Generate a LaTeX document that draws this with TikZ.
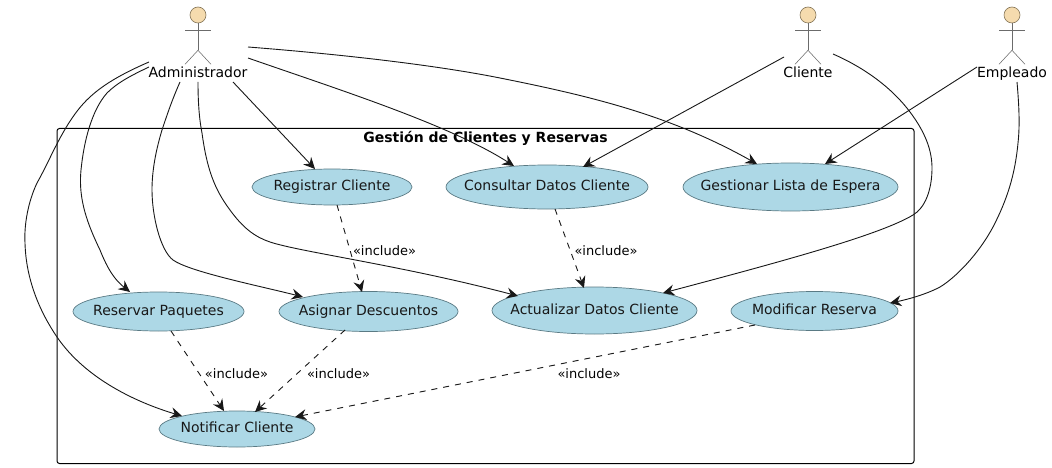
\documentclass[tikz,border=0pt]{standalone}
\usepackage{fontspec}
\setmainfont{DejaVu Sans}
\usetikzlibrary{arrows.meta,shapes.geometric}
\definecolor{ink}{HTML}{181818}
\definecolor{ucfill}{HTML}{ADD8E6}
\definecolor{ucline}{HTML}{5A7A84}
\definecolor{headfill}{HTML}{F5DBAE}
\definecolor{headline}{HTML}{857558}
\tikzset{
  x=1pt,y=-1pt,
  uc/.style={draw=ucline,fill=ucfill,ellipse,inner sep=0pt,line width=.7pt,text=ink,font=\fontsize{14}{16}\selectfont},
  actorname/.style={inner sep=0pt,anchor=base,text=black,font=\fontsize{14}{16}\selectfont},
  acthead/.style={circle,draw=headline,fill=headfill,inner sep=0pt,minimum size=16pt,line width=.6pt},
  actline/.style={draw=black!58,line width=.55pt},
  conn/.style={draw=ink,line width=.9pt,-{Stealth[length=11.5pt,width=11pt,inset=4pt]}},
  dep/.style={conn,dash pattern=on 6pt off 6pt},
  inc/.style={inner sep=0pt,text=black,font=\fontsize{13}{15}\selectfont},
  boundary/.style={draw=black,line width=1pt,rounded corners=2.5pt},
  boundtitle/.style={inner sep=0pt,text=black,font=\fontsize{14}{16}\selectfont\bfseries},
}
\newcommand{\uctext}[2][1]{\raisebox{#1pt}{\makebox[0pt][c]{\vphantom{Ag}#2}}}
\newcommand{\stickman}[4]{% name, x, head y, label
  \node[acthead] (#1h) at (#2,#3) {};
  \node[actorname] (#1) at (#2,78) {#4};
  \coordinate (#1c) at (#2,73);
  \coordinate (#1hip) at ([shift={(0,27)}]#1h.south);
  \coordinate (#1lf) at ([shift={(-13,41)}]#1h.south);
  \coordinate (#1rf) at ([shift={(13,41)}]#1h.south);
  \coordinate (#1al) at ([shift={(-13,7)}]#1h.south);
  \coordinate (#1ar) at ([shift={(13,7)}]#1h.south);
  \draw[actline] (#1h.south) -- (#1hip);
  \draw[actline] (#1al) -- (#1ar);
  \draw[actline] (#1lf) -- (#1hip) -- (#1rf);
}
\begin{document}
\begin{tikzpicture}
\useasboundingbox (0,0) rectangle (1052,468);
\fill[white] (0,0) rectangle (1052,468);
\coordinate (bndA) at (57,128.5);
\coordinate (bndB) at (914,463.5);
\draw[boundary] (bndA) rectangle (bndB);
\node[boundtitle] (title) at (485.5,138) {Gestión de Clientes y Reservas};

\stickman{adm}{198}{15}{Administrador}
\stickman{cli}{808}{15}{Cliente}
\stickman{emp}{1012}{15}{Empleado}

\node[uc,minimum width=160pt,minimum height=36pt] (reg) at (332,187) {\uctext{Registrar Cliente}};
\node[uc,minimum width=202pt,minimum height=44pt] (con) at (547,187) {\uctext[2]{Consultar Datos Cliente}};
\node[uc,minimum width=215pt,minimum height=48pt] (ges) at (790.5,187) {\uctext{Gestionar Lista de Espera}};
\node[uc,minimum width=171pt,minimum height=39pt] (res) at (158.5,311.5) {\uctext[2]{Reservar Paquetes}};
\node[uc,minimum width=179pt,minimum height=40pt] (asi) at (368.5,311.5) {\uctext[1.5]{Asignar Descuentos}};
\node[uc,minimum width=205pt,minimum height=47pt] (act) at (594.5,310.5) {\uctext{Actualizar Datos Cliente}};
\node[uc,minimum width=167pt,minimum height=39pt] (mod) at (814.5,311) {\uctext[1.5]{Modificar Reserva}};
\node[uc,minimum width=156pt,minimum height=36pt] (not) at (237,429) {\uctext{Notificar Cliente}};

% Administrador
\draw[conn] ([shift={(-49,-11)}]admc) .. controls (112,78) and (92,92) .. (78,110)
  .. controls (60,133) and (50,160) .. (37,183)
  .. controls (28,202) and (24,225) .. (25,243)
  .. controls (26,280) and (40,312) .. (57,337)
  .. controls (85,378) and (135,402) .. ([shift={(-55,-13)}]not.center);
\draw[conn] ([shift={(-49,-6)}]admc) .. controls (130,76) and (117,83) .. (107,93)
  .. controls (92,110) and (84,140) .. (81,170)
  .. controls (78,200) and (88,225) .. (100,250)
  .. controls (108,270) and (115,280) .. ([shift={(-28.5,-19.5)}]res.center);
\draw[conn] ([shift={(-18,9)}]admc) .. controls (172,100) and (167,115) .. (162,130)
  .. controls (156,150) and (152,170) .. (152,190)
  .. controls (152,215) and (160,250) .. (173,260)
  .. controls (190,272) and (260,286) .. ([shift={(-65.5,-14.5)}]asi.center);
\draw[conn] ([shift={(0,9)}]admc) .. controls (198,100) and (199,118) .. (202,133)
  .. controls (207,170) and (215,190) .. (230,210)
  .. controls (243,228) and (255,237) .. (270,242)
  .. controls (300,252) and (400,265) .. ([shift={(-76.5,-14.5)}]act.center);
\draw[conn] ([shift={(35,9)}]admc) -- ([shift={(-17,-18)}]reg.center);
\draw[conn] ([shift={(50,-15)}]admc) .. controls (340,90) and (450,125) .. ([shift={(-33,-21)}]con.center);
\draw[conn] ([shift={(50,-26)}]admc) .. controls (350,55) and (440,66) .. (500,78)
  .. controls (590,96) and (670,115) .. ([shift={(-33.5,-23)}]ges.center);
% Cliente
\draw[conn] ([shift={(-24,-16)}]clic) -- ([shift={(36,-20)}]con.center);
\draw[conn] ([shift={(25,-19)}]clic) .. controls (865,68) and (892,88) .. (910,112)
  .. controls (925,132) and (932,150) .. (932,168)
  .. controls (932,190) and (925,208) .. (913,215)
  .. controls (880,235) and (780,262) .. ([shift={(68.5,-17.5)}]act.center);
% Empleado
\draw[conn] ([shift={(-35,-6)}]empc) -- ([shift={(34.5,-23)}]ges.center);
\draw[conn] ([shift={(5,9)}]empc) .. controls (1019,105) and (1020,125) .. (1018,143)
  .. controls (1015,175) and (1007,200) .. (993,227)
  .. controls (978,255) and (955,278) .. (940,287)
  .. controls (925,295) and (905,300) .. ([shift={(75.5,-8)}]mod.center);
% include
\draw[dep] ([shift={(5,18)}]reg.center) -- ([shift={(-6.5,-19.5)}]asi.center);
\draw[dep] ([shift={(8,22)}]con.center) -- ([shift={(-10.5,-22.5)}]act.center);
\draw[dep] ([shift={(12.5,19.5)}]res.center) -- ([shift={(-13,-18)}]not.center);
\draw[dep] ([shift={(-23.5,18.5)}]asi.center) -- ([shift={(18,-17)}]not.center);
\draw[dep] ([shift={(-59.5,14)}]mod.center) -- ([shift={(58,-12)}]not.center);

\node[inc] (i1) at (384.5,251) {«include»};
\node[inc] (i2) at (606,251) {«include»};
\node[inc] (i3) at (236.5,374) {«include»};
\node[inc] (i4) at (338.5,374) {«include»};
\node[inc] (i5) at (589,374) {«include»};
\end{tikzpicture}
\end{document}
